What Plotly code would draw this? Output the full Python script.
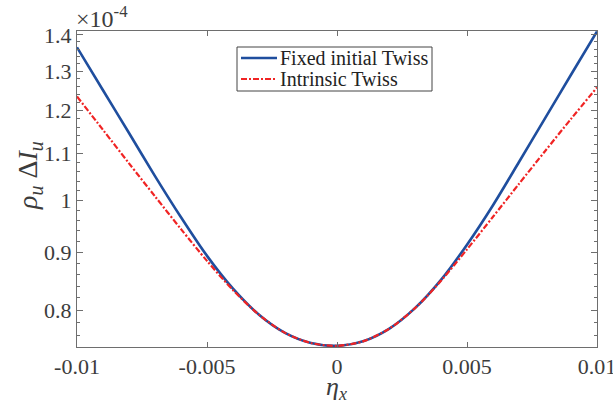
import math
import plotly.graph_objects as go

eta_x = [-0.010, -0.009, -0.008, -0.007, -0.006, -0.005, -0.004, -0.003, -0.002, -0.001,
         0.000, 0.001, 0.002, 0.003, 0.004, 0.005, 0.006, 0.007, 0.008, 0.009, 0.010]

fixed_twiss = [1.365, 1.2507, 1.1466, 1.0505, 0.966, 0.8931, 0.8354, 0.7923, 0.7636, 0.748,
               0.7437, 0.7506, 0.7699, 0.803, 0.8505, 0.9136, 0.990, 1.0809, 1.1814, 1.2909, 1.4096]

intrinsic_twiss = [1.235, 1.154, 1.078, 1.008, 0.943, 0.884, 0.833, 0.7923, 0.7636, 0.748,
                   0.7437, 0.7506, 0.7699, 0.803, 0.849, 0.905, 0.967, 1.034, 1.105, 1.180, 1.258]

series_names = ["Fixed initial Twiss", "Intrinsic Twiss"]
series_colors = ["#1f4e9e", "#f02424"]

scale = 1e-4
y_fixed = [v * scale for v in fixed_twiss]
y_intr = [v * scale for v in intrinsic_twiss]

x_tickvals = [-0.01, -0.005, 0, 0.005, 0.01]
x_ticktext = ["-0.01", "-0.005", "0", "0.005", "0.01"]
y_tick_labels = ["0.8", "0.9", "1", "1.1", "1.2", "1.3", "1.4"]
y_tickvals = [float(t) * scale for t in y_tick_labels]
y_minor = [round(0.76 + 0.02 * i, 2) * scale for i in range(33)
           if round(0.76 + 0.02 * i, 2) not in [0.8, 0.9, 1.0, 1.1, 1.2, 1.3, 1.4]]

y_range = [math.log10(0.742e-4), math.log10(1.411e-4)]

W, H = 613, 407
ML, MR, MT, MB = 77, 16, 31, 60
PW, PH = W - ML - MR, H - MT - MB


def px_x(p):
    return (p - ML) / PW


def px_y(p):
    return (H - MB - p) / PH


FONT = "Liberation Serif"
AX = "#6e6e6e"
TXT = "#3c3c3c"
RED_DASH = "6px,2px,2px,2px"

fig = go.Figure()
fig.add_trace(go.Scatter(x=eta_x, y=y_fixed, mode="lines", name=series_names[0],
                         line=dict(color=series_colors[0], width=2.6, shape="spline",
                                   smoothing=0.8)))
fig.add_trace(go.Scatter(x=eta_x, y=y_intr, mode="lines", name=series_names[1],
                         line=dict(color=series_colors[1], width=2.2, dash=RED_DASH,
                                   shape="spline", smoothing=0.8)))

fig.update_layout(
    width=W, height=H,
    margin=dict(l=ML, r=MR, t=MT, b=MB),
    plot_bgcolor="white", paper_bgcolor="white",
    font=dict(family=FONT, size=22, color=TXT),
    showlegend=False,
    xaxis=dict(range=[-0.01, 0.01], tickmode="array", tickvals=x_tickvals,
               ticktext=x_ticktext, ticks="inside", ticklen=5, tickcolor=AX,
               showline=True, linecolor=AX, linewidth=1, mirror="ticks",
               showgrid=False, zeroline=False, automargin=False,
               ticklabeloverflow="allow",
               tickfont=dict(family=FONT, size=22, color=TXT)),
    yaxis=dict(type="log", range=y_range, tickmode="array", tickvals=y_tickvals,
               ticktext=y_tick_labels, ticks="inside", ticklen=6, tickcolor=AX,
               minor=dict(tickmode="array", tickvals=y_minor, ticks="inside",
                          ticklen=3, tickcolor=AX, showgrid=False),
               showline=True, linecolor=AX, linewidth=1, mirror="ticks",
               showgrid=False, zeroline=False, automargin=False,
               tickfont=dict(family=FONT, size=22, color=TXT)),
)

# axis titles
fig.add_annotation(text="<i>η<sub><span style='font-size:18px'>x</span></sub></i>",
                   xref="paper", yref="paper", x=px_x(336), y=px_y(388),
                   xanchor="center", yanchor="middle", showarrow=False,
                   font=dict(family=FONT, size=26, color=TXT))
fig.add_annotation(text="<i>ρ<sub><span style='font-size:20px'>u</span></sub> "
                        "</i>Δ<i>I<sub><span style='font-size:20px'>u</span></sub></i>",
                   xref="paper", yref="paper", x=px_x(29), y=px_y(176),
                   xanchor="center", yanchor="middle", textangle=-90, showarrow=False,
                   font=dict(family=FONT, size=28, color=TXT))

# exponent label
fig.add_annotation(text="×10<sup>-4</sup>", xref="paper", yref="paper",
                   x=0, y=1, xanchor="left", yanchor="bottom", showarrow=False,
                   xshift=-3, yshift=-3,
                   font=dict(family=FONT, size=24, color=TXT))

# legend box (compact, MATLAB-like)
fig.add_shape(type="rect", xref="paper", yref="paper",
              x0=px_x(237), x1=px_x(432), y0=px_y(91), y1=px_y(47),
              line=dict(color="#444", width=1), fillcolor="white", layer="above")
row_y = [58, 79]
dashes = ["solid", RED_DASH]
widths = [2.6, 2.2]
for i in range(2):
    fig.add_shape(type="line", xref="paper", yref="paper",
                  x0=px_x(241), x1=px_x(277), y0=px_y(row_y[i]), y1=px_y(row_y[i]),
                  line=dict(color=series_colors[i], width=widths[i], dash=dashes[i]),
                  layer="above")
    fig.add_annotation(text=series_names[i], xref="paper", yref="paper",
                       x=px_x(278), y=px_y(row_y[i]), xanchor="left", yanchor="middle",
                       showarrow=False,
                       font=dict(family=FONT, size=20, color="#222"))

fig.write_html("out.html", config={"displayModeBar": False},
               post_script="document.body.style.margin='0';document.body.style.padding='0';")
